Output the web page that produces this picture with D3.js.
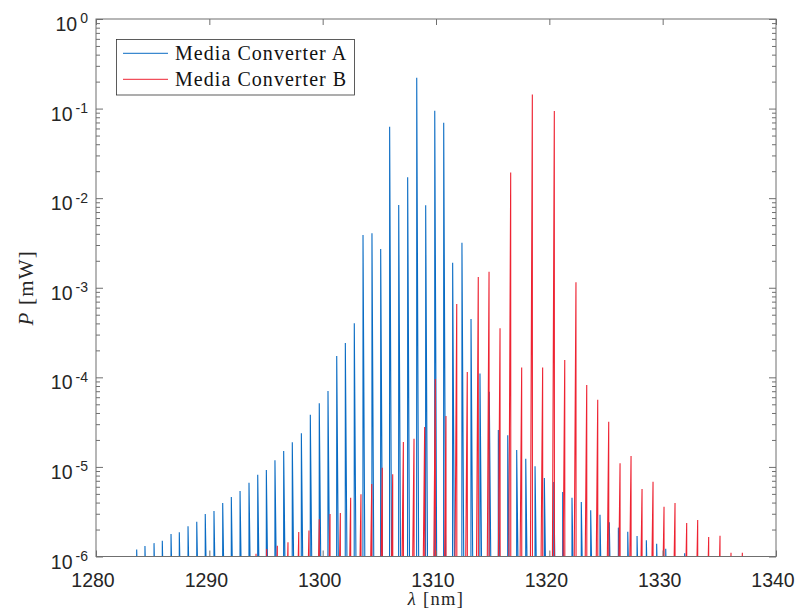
<!DOCTYPE html>
<html>
<head>
<meta charset="utf-8">
<script src="https://cdn.jsdelivr.net/npm/d3@7/dist/d3.min.js"></script>
<style>
  body { margin: 0; background: #fff; }
  svg { display: block; }
</style>
</head>
<body>
<script>
// Longitudinal-mode peaks of the two optical spectra (wavelength in nm, peak power in mW)
const blueWavelength = [
  1283.59, 1284.32, 1285.12, 1285.85, 1286.62, 1287.35, 1288.12, 1288.89, 1289.64, 1290.41,
  1291.18, 1291.94, 1292.71, 1293.50, 1294.27, 1295.03, 1295.79, 1296.56, 1297.32, 1298.12,
  1298.91, 1299.70, 1300.47, 1301.24, 1302.00, 1302.79, 1303.56, 1304.35, 1305.12, 1305.91,
  1306.71, 1307.50, 1308.30, 1309.09, 1309.89, 1310.68, 1311.47, 1312.29, 1313.09, 1313.88,
  1314.70, 1315.50, 1316.33, 1317.12, 1317.92, 1318.74, 1319.56, 1320.39, 1321.18, 1322.00,
  1322.82, 1323.65, 1324.47, 1325.29, 1326.09, 1326.92, 1327.74, 1328.56, 1329.47, 1330.27,
  1331.94
];
const bluePower = [
  1.20e-6, 1.31e-6, 1.41e-6, 1.50e-6, 1.78e-6, 1.86e-6, 2.17e-6, 2.45e-6, 2.98e-6, 3.22e-6,
  3.96e-6, 4.61e-6, 5.38e-6, 6.67e-6, 8.19e-6, 9.23e-6, 1.19e-5, 1.51e-5, 1.88e-5, 2.37e-5,
  3.83e-5, 5.14e-5, 7.03e-5, 1.73e-4, 2.42e-4, 4.01e-4, 3.88e-3, 4.05e-3, 2.71e-3, 6.28e-2,
  8.39e-3, 1.71e-2, 2.21e-1, 8.32e-3, 9.47e-2, 6.96e-2, 1.90e-3, 3.18e-3, 4.48e-4, 1.10e-4,
  6.91e-5, 2.58e-5, 2.25e-5, 1.54e-5, 1.23e-5, 1.02e-5, 7.52e-6, 6.78e-6, 5.24e-6, 4.53e-6,
  4.06e-6, 3.28e-6, 2.93e-6, 2.41e-6, 2.10e-6, 1.89e-6, 1.69e-6, 1.52e-6, 1.39e-6, 1.22e-6,
  1.09e-6
];
const redWavelength = [
  1294.12, 1295.06, 1296.00, 1296.94, 1297.89, 1298.79, 1299.70, 1300.65, 1301.56, 1302.47,
  1303.38, 1304.33, 1305.26, 1306.18, 1307.12, 1308.06, 1309.00, 1309.94, 1310.88, 1311.83,
  1312.76, 1313.73, 1314.68, 1315.65, 1316.59, 1317.56, 1318.50, 1319.41, 1320.44, 1321.36,
  1322.35, 1323.30, 1324.27, 1325.24, 1326.24, 1327.21, 1328.18, 1329.15, 1330.12, 1331.09,
  1332.12, 1333.09, 1334.06, 1335.06, 1336.03, 1337.03
];
const redPower = [
  1.07e-6, 1.21e-6, 1.32e-6, 1.44e-6, 1.88e-6, 1.95e-6, 2.60e-6, 2.98e-6, 3.06e-6, 4.53e-6,
  4.94e-6, 6.44e-6, 9.80e-6, 8.26e-6, 1.90e-5, 2.06e-5, 2.79e-5, 9.58e-5, 3.70e-5, 6.58e-4,
  1.15e-4, 1.32e-3, 1.51e-3, 3.53e-4, 1.94e-2, 1.29e-4, 1.44e-1, 1.29e-4, 9.40e-2, 1.56e-4,
  1.15e-3, 8.20e-5, 5.62e-5, 3.20e-5, 1.10e-5, 1.32e-5, 5.66e-6, 6.84e-6, 3.60e-6, 3.95e-6,
  2.36e-6, 2.55e-6, 1.65e-6, 1.70e-6, 1.10e-6, 1.10e-6
];
const seriesNames = ["Media Converter A", "Media Converter B"];
const seriesColors = ["#0a6cc4", "#ee2332"];
const xTickValues = [1280, 1290, 1300, 1310, 1320, 1330, 1340];
const yTickExponents = [-6, -5, -4, -3, -2, -1, 0];

const W = 795, H = 616;
const plot = { left: 96, right: 776, top: 19, bottom: 556.5 };
const axisColor = "#262626";

const x = d3.scaleLinear().domain([1280, 1340]).range([plot.left, plot.right]);
const y = d3.scaleLog().domain([1e-6, 1]).range([plot.bottom, plot.top]);

const svg = d3.select("body").append("svg")
  .attr("width", W).attr("height", H)
  .attr("font-family", "'Liberation Sans', Arial, Helvetica, sans-serif");

svg.append("defs").append("clipPath").attr("id", "plot-clip")
  .append("rect")
  .attr("x", plot.left).attr("y", plot.top)
  .attr("width", plot.right - plot.left).attr("height", plot.bottom - plot.top);

// Each mode is a narrow spike rising from the noise floor (below the visible range)
const noiseFloor = 1e-7;
function spikes(wl, pw, riseWidth, fallWidth) {
  const pts = [];
  wl.forEach((w, i) => {
    pts.push([w - riseWidth, noiseFloor]);
    pts.push([w, pw[i]]);
    pts.push([w + fallWidth, noiseFloor]);
  });
  return pts;
}

const line = d3.line().x(d => x(d[0])).y(d => y(d[1]));
const plotG = svg.append("g").attr("clip-path", "url(#plot-clip)");

plotG.append("path")
  .datum(spikes(blueWavelength, bluePower, 0.01, 0.2))
  .attr("d", line)
  .attr("fill", "none")
  .attr("stroke", seriesColors[0])
  .attr("stroke-width", 1.1);

plotG.append("path")
  .datum(spikes(redWavelength, redPower, 0.2, 0.01))
  .attr("d", line)
  .attr("fill", "none")
  .attr("stroke", seriesColors[1])
  .attr("stroke-width", 1.1);

// Axes: box with inward ticks on all four sides
const minorY = [];
for (let e = -6; e < 0; e++) for (let k = 2; k <= 9; k++) minorY.push(k * Math.pow(10, e));
const majorY = yTickExponents.map(e => Math.pow(10, e));

function styleAxis(g) {
  g.select(".domain").remove();
  g.selectAll("line").attr("stroke", "#6f6f6f").attr("stroke-width", 1);
  g.selectAll("text").remove();
}

svg.append("g").attr("transform", `translate(0,${plot.bottom})`)
  .call(d3.axisTop(x).tickValues(xTickValues).tickSize(6).tickFormat(""))
  .call(styleAxis);
svg.append("g").attr("transform", `translate(0,${plot.top})`)
  .call(d3.axisBottom(x).tickValues(xTickValues).tickSize(6).tickFormat(""))
  .call(styleAxis);
svg.append("g").attr("transform", `translate(${plot.left},0)`)
  .call(d3.axisRight(y).tickValues(majorY).tickSize(7).tickFormat(""))
  .call(styleAxis);
svg.append("g").attr("transform", `translate(${plot.left},0)`)
  .call(d3.axisRight(y).tickValues(minorY).tickSize(4).tickFormat(""))
  .call(styleAxis);
svg.append("g").attr("transform", `translate(${plot.right},0)`)
  .call(d3.axisLeft(y).tickValues(majorY).tickSize(7).tickFormat(""))
  .call(styleAxis);
svg.append("g").attr("transform", `translate(${plot.right},0)`)
  .call(d3.axisLeft(y).tickValues(minorY).tickSize(4).tickFormat(""))
  .call(styleAxis);

svg.append("rect")
  .attr("x", plot.left).attr("y", plot.top)
  .attr("width", plot.right - plot.left).attr("height", plot.bottom - plot.top)
  .attr("fill", "none").attr("stroke", "#6f6f6f").attr("stroke-width", 1);

// Tick labels
svg.append("g").selectAll("text").data(xTickValues).join("text")
  .attr("x", d => x(d) - 3)
  .attr("y", plot.bottom + 30)
  .attr("text-anchor", "middle")
  .attr("font-size", 19.5)
  .attr("fill", axisColor)
  .text(d => d);

const yl = svg.append("g").selectAll("text").data(yTickExponents).join("text")
  .attr("x", plot.left - 8)
  .attr("y", d => y(Math.pow(10, d)) + 12)
  .attr("text-anchor", "end")
  .attr("font-size", 19.5)
  .attr("fill", axisColor);
yl.append("tspan").text("10");
yl.append("tspan").attr("dx", 3).attr("dy", -7.6).attr("font-size", 14).text(d => String(d));

// Axis titles
const serif = "'Liberation Serif', 'Times New Roman', serif";
const xt = svg.append("text")
  .attr("x", (plot.left + plot.right) / 2)
  .attr("y", 605)
  .attr("text-anchor", "middle")
  .attr("font-family", serif)
  .attr("font-size", 18.5)
  .attr("letter-spacing", 1.3)
  .attr("fill", axisColor);
xt.append("tspan").attr("font-style", "italic").text("λ");
xt.append("tspan").text(" [nm]");

const yt = svg.append("text")
  .attr("transform", `translate(33,${(plot.top + plot.bottom) / 2}) rotate(-90)`)
  .attr("text-anchor", "middle")
  .attr("font-family", serif)
  .attr("font-size", 21)
  .attr("letter-spacing", 1.2)
  .attr("fill", axisColor);
yt.append("tspan").attr("font-style", "italic").text("P");
yt.append("tspan").text(" [mW]");

// Legend
const legend = svg.append("g");
legend.append("rect")
  .attr("x", 116.5).attr("y", 39.5).attr("width", 238).attr("height", 55.5)
  .attr("fill", "#fff").attr("stroke", "#333").attr("stroke-width", 0.8);
const rows = legend.selectAll("g.row").data(seriesNames).join("g")
  .attr("class", "row")
  .attr("transform", (d, i) => `translate(0,${53.3 + i * 26})`);
rows.append("line")
  .attr("x1", 123).attr("x2", 168).attr("y1", 0).attr("y2", 0)
  .attr("stroke", (d, i) => seriesColors[i]).attr("stroke-width", 1);
rows.append("text")
  .attr("x", 175).attr("y", 6.5)
  .attr("font-family", serif)
  .attr("font-size", 20)
  .attr("letter-spacing", 1.05)
  .attr("fill", "#111")
  .text(d => d);
</script>
</body>
</html>
